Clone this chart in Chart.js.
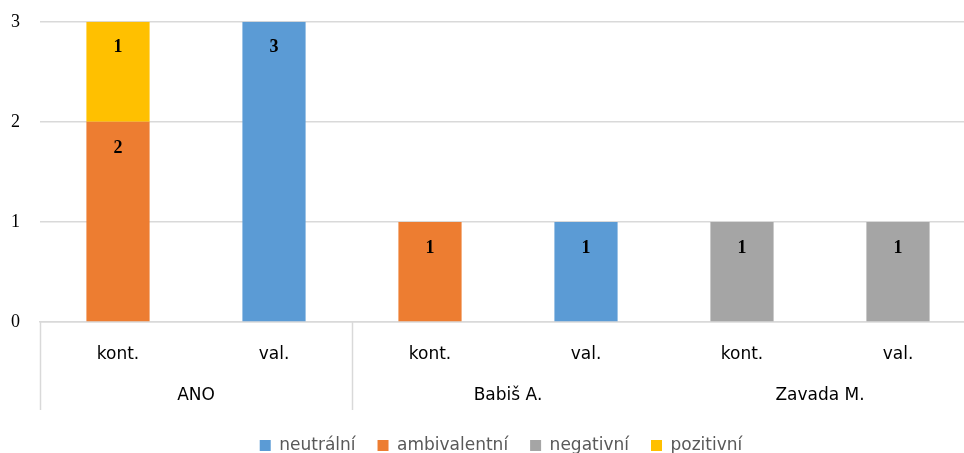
<!DOCTYPE html>
<html>
<head>
<meta charset="utf-8">
<script src="https://cdn.jsdelivr.net/npm/chart.js@4/dist/chart.umd.min.js"></script>
<style>
  html, body { margin: 0; padding: 0; background: #fff; overflow: hidden; }
  #wrap { position: absolute; left: 0; top: -9px; width: 976px; height: 473px; }
</style>
</head>
<body>
<div id="wrap"><canvas id="graf" width="976" height="473"></canvas></div>
<script>
// Kategorie a skupiny na ose x
const kategorie = ['kont.', 'val.', 'kont.', 'val.', 'kont.', 'val.'];
const skupiny = ['ANO', 'Babiš A.', 'Zavada M.'];
const naSkupinu = 2;

// Hodnoty sérií (null = bez sloupce)
const neutralni     = [null, 3, null, 1, null, null];
const ambivalentni  = [2, null, 1, null, null, null];
const negativni     = [null, null, null, null, 1, 1];
const pozitivni     = [1, null, null, null, null, null];

const popiskyOsyY = ['0', '1', '2', '3'];

const barvy = {
    neutralni: '#5B9BD5',
    ambivalentni: '#ED7D31',
    negativni: '#A5A5A5',
    pozitivni: '#FFC000'
};

const sans = '"DejaVu Sans", sans-serif';
const serif = '"Liberation Serif", serif';
const spodekGrafu = 331; // spodní okraj plochy v souřadnicích plátna

// popisky hodnot uvnitř sloupců
const popiskyHodnot = {
    id: 'popiskyHodnot',
    afterDatasetsDraw(chart) {
        const ctx = chart.ctx;
        ctx.save();
        ctx.font = 'bold 18px ' + serif;
        ctx.fillStyle = '#000';
        ctx.textAlign = 'center';
        ctx.textBaseline = 'middle';
        chart.data.datasets.forEach((ds, i) => {
            chart.getDatasetMeta(i).data.forEach((bar, j) => {
                const v = ds.data[j];
                if (v === null || v === undefined) return;
                ctx.fillText(String(v), bar.x, bar.y + 26);
            });
        });
        ctx.restore();
    }
};

// druhá úroveň osy x: skupiny a oddělovače, posun legendy
const osaSkupin = {
    id: 'osaSkupin',
    beforeDraw(chart) {
        chart.legend.left += 13;
        chart.legend.right += 13;
    },
    afterDraw(chart) {
        const ctx = chart.ctx;
        const x = chart.scales.x;
        const area = chart.chartArea;
        const sirka = (area.right - area.left) / kategorie.length;
        ctx.save();
        ctx.strokeStyle = '#d9d9d9';
        ctx.lineWidth = 1.5;
        // oddělovače jen vlevo a za první skupinou (jako v originále)
        [area.left, area.left + sirka * naSkupinu].forEach(px => {
            ctx.beginPath();
            ctx.moveTo(Math.round(px) + 0.5, area.bottom);
            ctx.lineTo(Math.round(px) + 0.5, area.bottom + 88);
            ctx.stroke();
        });
        ctx.font = '17px ' + sans;
        ctx.fillStyle = '#000';
        ctx.textAlign = 'center';
        ctx.textBaseline = 'middle';
        skupiny.forEach((s, g) => {
            const a = x.getPixelForValue(g * naSkupinu);
            const b = x.getPixelForValue(g * naSkupinu + naSkupinu - 1);
            ctx.fillText(s, (a + b) / 2, area.bottom + 74);
        });
        ctx.restore();
    }
};

new Chart(document.getElementById('graf').getContext('2d'), {
    type: 'bar',
    data: {
        labels: kategorie,
        datasets: [
            { label: 'neutrální', data: neutralni, backgroundColor: barvy.neutralni },
            { label: 'ambivalentní', data: ambivalentni, backgroundColor: barvy.ambivalentni },
            { label: 'negativní', data: negativni, backgroundColor: barvy.negativni },
            { label: 'pozitivní', data: pozitivni, backgroundColor: barvy.pozitivni }
        ]
    },
    options: {
        responsive: false,
        animation: false,
        datasets: {
            bar: { categoryPercentage: 1, barPercentage: 0.405 }
        },
        layout: { padding: { top: 13, right: 0, left: 0, bottom: 0 } },
        scales: {
            x: {
                stacked: true,
                grid: { display: false, drawTicks: false },
                border: { display: true, color: '#d9d9d9', width: 1.5 },
                ticks: {
                    color: '#000',
                    font: { family: sans, size: 17 },
                    padding: 22,
                    maxRotation: 0,
                    autoSkip: false
                },
                afterFit(s) {
                    s.height = s.chart.height - s.chart.legend.height - spodekGrafu;
                }
            },
            y: {
                stacked: true,
                min: 0,
                max: 3,
                grid: { color: '#d9d9d9', lineWidth: 1.5, drawTicks: false },
                border: { display: false },
                ticks: {
                    stepSize: 1,
                    color: '#000',
                    padding: 20,
                    font: { family: serif, size: 18 },
                    callback: (v) => popiskyOsyY[v]
                },
                afterFit(s) { s.width = 40; }
            }
        },
        plugins: {
            legend: {
                position: 'bottom',
                labels: {
                    boxWidth: 11,
                    boxHeight: 11,
                    padding: 22,
                    color: '#595959',
                    font: { family: sans, size: 17 }
                }
            },
            tooltip: { enabled: false }
        }
    },
    plugins: [popiskyHodnot, osaSkupin]
});
</script>
</body>
</html>
